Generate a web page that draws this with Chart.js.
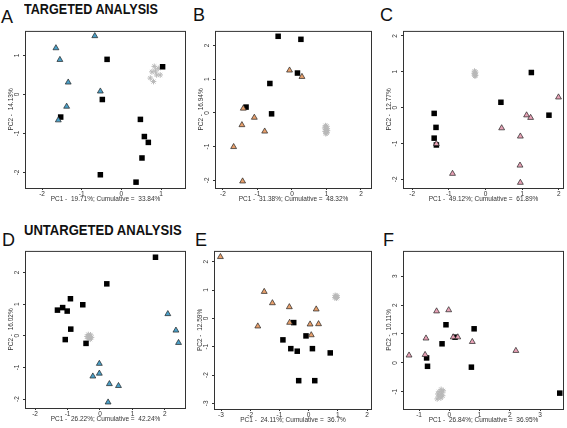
<!DOCTYPE html>
<html lang="en">
<head>
<meta charset="UTF-8">
<title>Targeted and untargeted PCA</title>
<script src="https://cdn.jsdelivr.net/npm/chart.js@4.4.1/dist/chart.umd.min.js"></script>
<style>
  body { margin: 0; background: #fff; width: 567px; height: 428px; position: relative; overflow: hidden; font-family: "Liberation Sans", Arial, sans-serif; }
  canvas { position: absolute; }
  .letter { position: absolute; font-size: 18px; line-height: 1; color: #111; }
  .head { position: absolute; font-size: 15px; font-weight: bold; line-height: 1; transform-origin: 0 0; white-space: nowrap; color: #111; }
</style>
</head>
<body>
  <div class="head" style="left:24px; top:1px; transform:scaleX(0.84)">TARGETED ANALYSIS</div>
  <div class="head" style="left:24px; top:222px; transform:scaleX(0.87)">UNTARGETED ANALYSIS</div>
  <div class="letter" style="left:1px; top:8px">A</div>
  <div class="letter" style="left:193px; top:6px">B</div>
  <div class="letter" style="left:380px; top:6px">C</div>
  <div class="letter" style="left:2px; top:231px">D</div>
  <div class="letter" style="left:195px; top:231px">E</div>
  <div class="letter" style="left:383px; top:231px">F</div>

  <canvas id="pA"></canvas>
  <canvas id="pB"></canvas>
  <canvas id="pC"></canvas>
  <canvas id="pD"></canvas>
  <canvas id="pE"></canvas>
  <canvas id="pF"></canvas>

  <script>
    // panel A - targeted
    const triA = [[-0.67, 1.5], [-1.65, 1.19], [-1.55, 0.89], [-1.34, 0.31], [-0.53, 0.08], [-1.38, -0.31], [-1.59, -0.66]]
    const sqA = [[-0.36, 0.9], [1.04, 0.71], [-0.48, -0.13], [-1.53, -0.58], [0.48, -0.64], [0.58, -1.08], [0.68, -1.23], [0.52, -1.63], [-0.53, -2.06], [0.37, -2.25]]
    const starA = [[0.83, 0.72], [0.93, 0.67], [0.77, 0.58], [0.89, 0.5], [0.98, 0.5], [0.73, 0.42], [0.81, 0.33], [0.86, 0.6]]
    const xTicksA = [-2, -1, 0, 1]
    const yTicksA = [-2, -1, 0, 1]

    // panel B
    const triB = [[-0.07, 1.26], [0.29, 1.07], [-1.41, 0.13], [-1.09, -0.14], [-1.45, -0.36], [-0.79, -0.55], [-1.69, -1.01], [-1.43, -2.03]]
    const sqB = [[-0.4, 2.27], [0.26, 2.18], [0.16, 1.18], [-0.64, 0.87], [-1.33, 0.17], [-0.59, -0.03]]
    const starB = [[0.97, -0.38], [1.01, -0.4], [0.95, -0.45], [1.02, -0.47], [0.98, -0.5], [1.03, -0.53], [0.96, -0.55], [1.0, -0.58], [0.98, -0.62], [1.01, -0.6]]
    const xTicksB = [-2, -1, 0, 1, 2]
    const yTicksB = [-2, -1, 0, 1, 2]

    // panel C
    const triC = [[1.99, 0.29], [1.12, -0.21], [1.23, -0.28], [0.44, -0.57], [0.95, -0.8], [-1.34, -1.01], [0.94, -1.61], [0.95, -2.09], [-0.9, -1.84]]
    const sqC = [[1.25, 0.98], [0.42, 0.15], [-1.4, -0.16], [-1.35, -0.55], [-1.4, -0.85], [-1.34, -1.04], [1.73, -0.21]]
    const starC = [[-0.3, 1.02], [-0.27, 0.99], [-0.31, 0.96], [-0.28, 0.94], [-0.3, 0.91], [-0.27, 0.9], [-0.29, 0.88]]
    const xTicksC = [-2, -1, 0, 1, 2]
    const yTicksC = [-2, -1, 0, 1, 2]

    // panel D - untargeted
    const triD = [[2.09, 0.69], [2.34, 0.17], [2.42, -0.22], [-0.02, -0.88], [-0.02, -1.19], [-0.22, -1.28], [0.29, -1.52], [0.57, -1.58], [0.25, -2.1]]
    const sqD = [[1.71, 2.48], [0.21, 1.64], [-0.91, 1.17], [-0.53, 0.98], [-1.31, 0.81], [-1.15, 0.89], [-1.01, 0.78], [-0.9, 0.21], [-1.07, -0.12], [-0.43, -0.24]]
    const starD = [[-0.36, 0.04], [-0.29, 0.03], [-0.4, -0.02], [-0.33, -0.04], [-0.26, -0.05], [-0.37, -0.09], [-0.3, -0.11], [-0.34, 0.0]]
    const xTicksD = [-2, -1, 0, 1, 2]
    const yTicksD = [-2, -1, 0, 1, 2]

    // panel E
    const triE = [[-3.02, 2.17], [-1.52, 0.94], [-1.24, 0.54], [-0.66, 0.4], [0.26, 0.32], [-1.74, -0.28], [-0.65, -0.15], [0.05, -0.21], [0.34, -0.2], [0.09, -0.59]]
    const sqE = [[-0.51, -0.15], [-0.88, -0.76], [-0.09, -0.62], [-0.61, -1.07], [-0.39, -1.16], [0.13, -1.07], [0.74, -1.22], [-0.34, -2.2], [0.21, -2.2]]
    const starE = [[0.91, 0.81], [0.97, 0.8], [0.93, 0.76], [0.98, 0.74], [0.9, 0.73], [0.95, 0.71]]
    const xTicksE = [-3, -2, -1, 0, 1, 2]
    const yTicksE = [-3, -2, -1, 0, 1, 2]

    // panel F
    const triF = [[-1.33, 0.26], [-0.8, 0.28], [-0.77, 0.85], [-0.42, 1.79], [-0.02, 1.83], [0.13, 0.89], [0.28, 0.89], [0.76, 0.73], [2.2, 0.42]]
    const sqF = [[-0.11, 1.32], [0.82, 1.18], [-0.24, 0.66], [0.19, 0.89], [-0.75, 0.17], [-0.72, -0.12], [0.73, -0.15], [3.65, -1.05]]
    const starF = [[-0.27, -0.92], [-0.2, -0.97], [-0.34, -1.0], [-0.25, -1.04], [-0.38, -1.08], [-0.3, -1.12], [-0.22, -1.14], [-0.35, -1.18], [-0.28, -1.22], [-0.4, -1.25]]
    const xTicksF = [-1, 0, 1, 2, 3]
    const yTicksF = [-1, 0, 1, 2, 3]

    const BLUE = "#4ba0c8"
    const ORANGE = "#e8a06c"
    const PINK = "#e8a2b6"
    const FONT = "'Liberation Sans', Arial, sans-serif"

    const boxPlugin = {
      id: "box",
      afterDraw(chart) {
        const a = chart.chartArea
        const ctx = chart.ctx
        ctx.save()
        ctx.strokeStyle = "#333"
        ctx.lineWidth = 1
        ctx.strokeRect(a.left + 0.5, a.top + 0.5, a.right - a.left - 1, a.bottom - a.top)
        ctx.restore()
      }
    }

    const pts = arr => arr.map(p => ({ x: p[0], y: p[1] }))

    // box = [left, top, right, bottom] of the plot frame in page pixels
    const makePanel = (id, box, xr, yr, xt, yt, xTitle, yTitle, tri, triColor, sq, star) => {
      const padY = 18, padX = 15, gap = 3
      const cv = document.getElementById(id)
      cv.width = box[2] - box[0] + padY + gap
      cv.height = box[3] - box[1] + padX + gap
      cv.style.left = (box[0] - padY) + "px"
      cv.style.top = (box[1] - gap) + "px"
      new Chart(cv, {
        type: "scatter",
        data: {
          datasets: [
            { data: pts(tri), pointStyle: "triangle", radius: 3.4, backgroundColor: triColor, borderColor: "#222", borderWidth: 0.7 },
            { data: pts(sq), pointStyle: "rect", radius: 3.9, backgroundColor: "#000", borderColor: "#000", borderWidth: 0 },
            { data: pts(star), pointStyle: "star", radius: 2.8, backgroundColor: "#b8b8b8", borderColor: "#b8b8b8", borderWidth: 1 }
          ]
        },
        options: {
          responsive: false,
          animation: false,
          events: [],
          layout: { padding: { top: gap, right: gap, left: 0, bottom: 0 }, autoPadding: false },
          plugins: { legend: { display: false }, tooltip: { enabled: false } },
          scales: {
            x: {
              type: "linear", min: xr[0], max: xr[1],
              afterBuildTicks: s => { s.ticks = xt.map(v => ({ value: v })) },
              afterFit: s => { s.height = padX },
              ticks: { font: { size: 6.5, family: FONT }, color: "#333", padding: 0, maxRotation: 0, autoSkip: false },
              grid: { drawOnChartArea: false, drawTicks: true, tickLength: 2, color: "#333" },
              border: { display: false },
              title: { display: true, text: xTitle, font: { size: 6.5, family: FONT }, color: "#333", padding: 0 }
            },
            y: {
              type: "linear", min: yr[0], max: yr[1],
              afterBuildTicks: s => { s.ticks = yt.map(v => ({ value: v })) },
              afterFit: s => { s.width = padY },
              ticks: { font: { size: 6.5, family: FONT }, color: "#333", padding: 3, minRotation: 90, maxRotation: 90, crossAlign: "center", autoSkip: false },
              grid: { drawOnChartArea: false, drawTicks: true, tickLength: 2, color: "#333" },
              border: { display: false },
              title: { display: true, text: yTitle, font: { size: 6.5, family: FONT }, color: "#333", padding: 0 }
            }
          }
        },
        plugins: [boxPlugin]
      })
    }

    makePanel("pA", [25, 27, 186, 188], [-2.43, 1.63], [-2.4, 1.63], xTicksA, yTicksA,
      "PC1 -  19.71%; Cumulative =  33.84%", "PC2 -  14.13%", triA, BLUE, sqA, starA)
    makePanel("pB", [215, 27, 372, 188], [-2.23, 2.32], [-2.23, 2.43], xTicksB, yTicksB,
      "PC1 -  31.38%; Cumulative =  48.32%", "PC2 -  16.94%", triB, ORANGE, sqB, starB)
    makePanel("pC", [403, 27, 564, 188], [-2.25, 2.14], [-2.24, 2.14], xTicksC, yTicksC,
      "PC1 -  49.12%; Cumulative =  61.89%", "PC2 -  12.77%", triC, PINK, sqC, starC)
    makePanel("pD", [25, 247, 186, 408], [-2.31, 2.65], [-2.28, 2.68], xTicksD, yTicksD,
      "PC1 -  26.22%; Cumulative =  42.24%", "PC2 -  16.02%", triD, BLUE, sqD, starD)
    makePanel("pE", [214, 247, 372, 409], [-3.24, 2.17], [-3.2, 2.38], xTicksE, yTicksE,
      "PC1 -  24.11%; Cumulative =  36.7%", "PC2 -  12.59%", triE, ORANGE, sqE, starE)
    makePanel("pF", [403, 247, 564, 409], [-1.53, 3.79], [-1.6, 3.88], xTicksF, yTicksF,
      "PC1 -  26.84%; Cumulative =  36.95%", "PC2 -  10.11%", triF, PINK, sqF, starF)
  </script>
</body>
</html>
